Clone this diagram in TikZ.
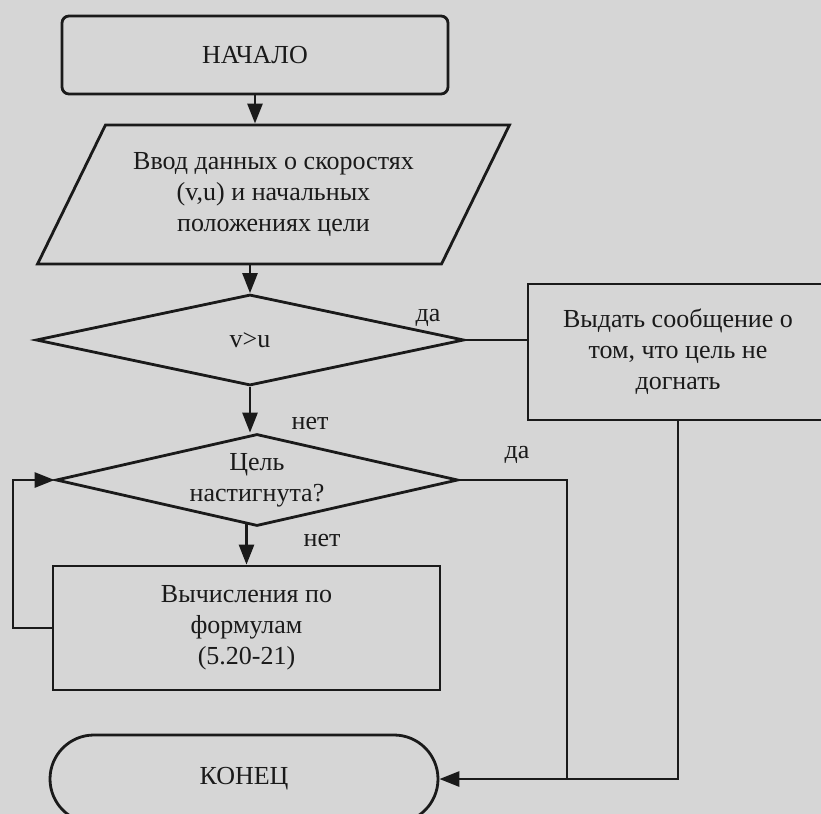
\documentclass[tikz,border=0pt]{standalone}
\usepackage{fontspec}
\setmainfont{Liberation Serif}
\usepackage{tikz}
\usetikzlibrary{positioning, arrows.meta, shapes.geometric}
\definecolor{paper}{HTML}{D6D6D6}
\definecolor{ink}{HTML}{1A1A1A}

\begin{document}
\begin{tikzpicture}[x=0.5pt, y=-0.5pt,
    every node/.style={font={\fontsize{13}{15.5}\selectfont}, text=ink},
    base/.style={draw=ink, line width=1.4pt, align=center},
    block/.style={base, rectangle, inner sep=0pt},
    term/.style={block, rounded corners=#1},
    io/.style={base, trapezium, trapezium left angle=56, trapezium right angle=124,
               trapezium stretches=true, inner sep=0pt},
    decide/.style={base, diamond, aspect=4.6, inner sep=0pt},
    arr/.style={draw=ink, line width=1.4pt, -{Triangle[length=10pt, width=7.5pt]}},
    wire/.style={draw=ink, line width=1.4pt}]
  % paper
  \fill[paper] (0,0) rectangle (821,814);
  \useasboundingbox (0,0) rectangle (821,814);
  % blocks
  \node[term=3.5pt, minimum width=193pt, minimum height=39pt] (start) at (255,55) {НАЧАЛО};
  \node[io, minimum width=236.5pt, minimum height=69.5pt] (input) at (273.5,194.5)
      {Ввод данных о скоростях\\(v,u) и начальных\\положениях цели};
  \node[decide, minimum width=214pt, minimum height=45.5pt] (vu) at (250,340) {v>u};
  \node[block, minimum width=150pt, minimum height=68pt] (msg) at (678,352)
      {Выдать сообщение о\\том, что цель не\\догнать};
  \node[decide, minimum width=201pt, minimum height=46pt] (caught) at (257,480)
      {Цель\\настигнута?};
  \node[block, minimum width=193.5pt, minimum height=62pt] (calc) at (246.5,628)
      {Вычисления по\\формулам\\(5.20-21)};
  \node[term=22pt, minimum width=194pt, minimum height=44pt] (end) at (244,779) {КОНЕЦ};
  % branch labels
  \node (yes1) at (428,318) {да};
  \node (no1)  at (310,423) {нет};
  \node (yes2) at (517,455) {да};
  \node (no2)  at (322,540) {нет};
  % helper columns
  \coordinate (loopx) at (13,0);
  \coordinate (yesx)  at (567,0);
  % connectors
  \draw[arr] (start.south) -- (start.south |- input.north);
  \draw[arr] (input.south -| vu.north) -- (vu.north);
  \draw[wire] (vu.east) -- (msg.west |- vu.east);
  \draw[arr] (vu.south) -- (vu.south |- caught.north);
  \draw[arr] ([yshift=1.5pt]calc.north |- caught.south) -- (calc.north);
  \draw[arr] (calc.west) -- (calc.west -| loopx) |- (caught.west);
  \draw[arr] (caught.east) -- (caught.east -| yesx) |- (end.east);
  \draw[wire] (msg.south) |- (end.east -| yesx);
\end{tikzpicture}
\end{document}
